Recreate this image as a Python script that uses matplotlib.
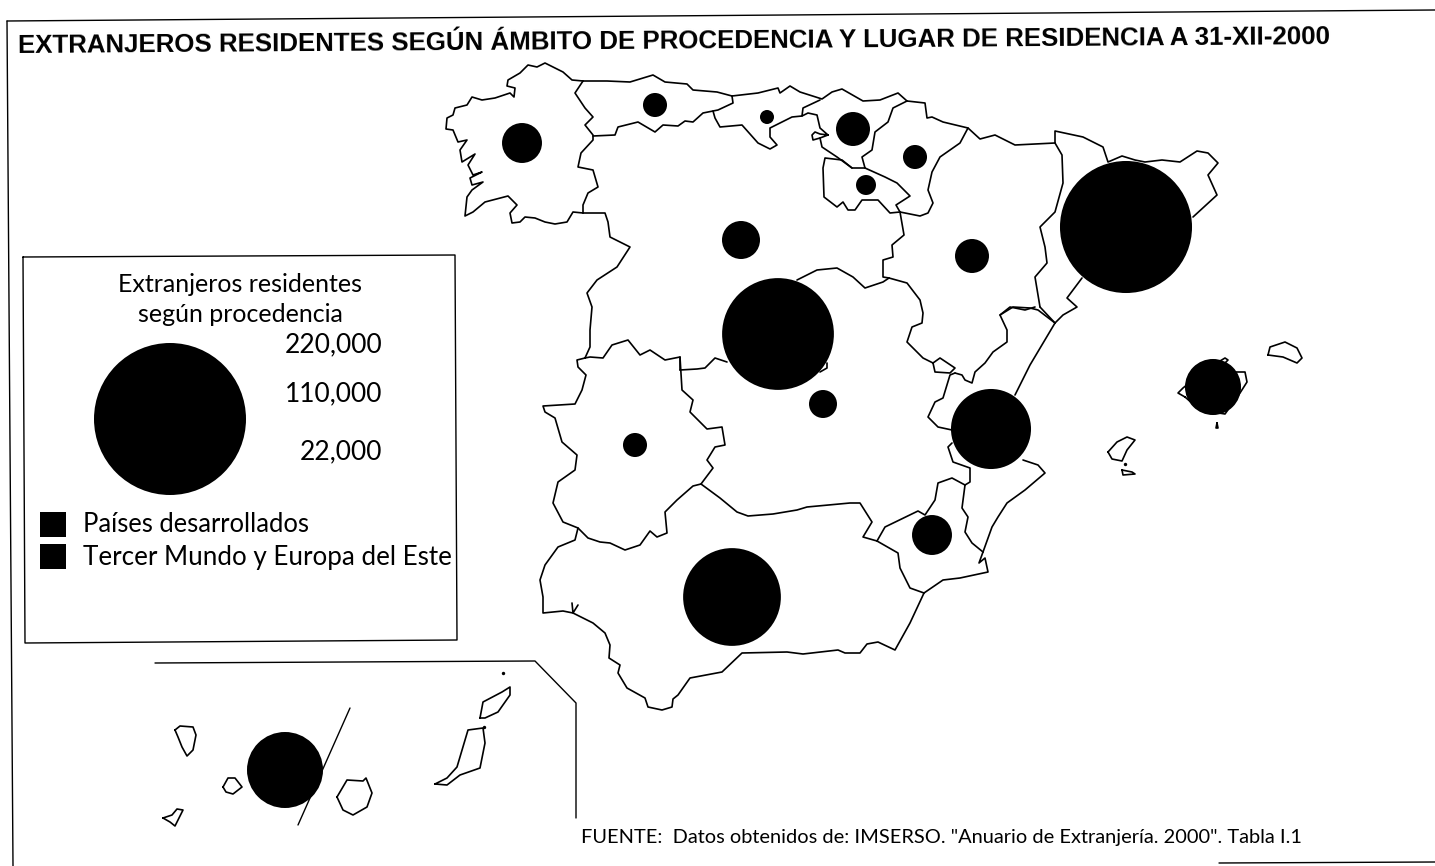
import numpy as np
import matplotlib
matplotlib.use("Agg")
import matplotlib.pyplot as plt
from matplotlib.patches import Circle, Rectangle

# ---- data -----------------------------------------------------------------
TITLE = "EXTRANJEROS RESIDENTES SEGÚN ÁMBITO DE PROCEDENCIA Y LUGAR DE RESIDENCIA A 31-XII-2000"
SOURCE = 'FUENTE:  Datos obtenidos de: IMSERSO. "Anuario de Extranjería. 2000". Tabla I.1'
LEGEND_TITLE = ["Extranjeros residentes", "según procedencia"]
legend_values = [220000, 110000, 22000]
legend_labels = ["220,000", "110,000", "22,000"]
category_labels = ["Países desarrollados", "Tercer Mundo y Europa del Este"]

regions = ["Galicia", "Asturias", "Cantabria", "País Vasco", "Navarra", "La Rioja",
           "Castilla y León", "Aragón", "Cataluña", "Madrid", "Castilla-La Mancha",
           "Extremadura", "C. Valenciana", "Baleares", "Murcia", "Andalucía", "Canarias"]
residents = [15200, 5500, 1870, 11000, 5500, 3800, 13750, 11000, 166000, 119000, 7460,
             5500, 61000, 29900, 15200, 91000, 55000]
region_x = [522, 655, 767, 853, 915, 866, 741, 972, 1126, 778, 823, 635, 991, 1213, 932, 732, 285]
region_y = [143, 105, 117, 129, 157, 185, 240, 256, 227, 334, 404, 445, 429, 387, 535, 597, 770]

boundaries = [
 # Galicia coast
 [(583,81),(572,80),(563,72),(545,63),(537,67),(528,65),(520,73),(508,80),(507,86),(515,88),(514,97),(510,93),(495,98),(482,100),(472,97),(467,105),(455,108),(453,115),(447,118),(446,129),(453,130),(458,142),(467,140),(460,150),(462,162),(475,154),(468,165),(473,175),(482,172),(470,178),(472,185),(483,182),(472,190),(467,197),(465,216),(473,212),(485,202),(508,196),(517,205),(510,213),(512,223),(520,222),(525,217),(535,218),(545,222),(555,224),(567,222),(573,212),(583,213)],
 # Galicia east
 [(583,213),(583,205),(588,193),(598,187),(593,170),(578,167),(581,153),(593,140),(593,135),(585,125),(593,117),(585,108),(575,93),(583,81)],
 # Asturias coast
 [(583,81),(607,81),(630,82),(653,75),(665,82),(687,84),(693,90),(717,92),(732,96)],
 # Asturias south
 [(593,136),(615,135),(618,127),(638,122),(655,132),(663,125),(678,126),(685,121),(693,122),(703,113),(713,111),(715,118),(720,127),(742,125),(758,143),(770,149),(777,145),(770,137),(770,128),(792,117),(802,116),(803,108),(820,100)],
 [(732,96),(733,103),(718,110),(713,111)],
 # Cantabria + Basque coast
 [(732,96),(758,93),(778,88),(780,93),(790,86),(800,92),(822,99),(832,92),(842,89),(863,101),(880,100),(898,93),(907,101)],
 # Álava / Bizkaia enclave
 [(802,116),(808,113),(817,115),(820,128),(828,135),(820,138),(813,140),(812,135),(815,132),(820,134),(828,135)],
 [(820,138),(822,147),(837,157),(852,168),(865,168)],
 # Basque / Navarra
 [(907,101),(893,108),(888,122),(875,132),(872,150),(862,157),(865,168)],
 # Navarra
 [(907,101),(925,103),(927,118),(932,117),(943,122),(968,128),(960,143),(940,157),(932,172),(928,190),(933,203),(928,213),(920,216),(900,212),(896,205),(910,196),(897,183),(885,177),(865,168)],
 # La Rioja
 [(852,168),(842,160),(825,158),(823,168),(824,197),(837,207),(843,202),(848,210),(855,210),(862,200),(878,200),(890,213),(900,212)],
 # Castilla y León east
 [(900,212),(904,235),(892,245),(893,257),(883,260),(883,277),(889,278)],
 # CLM / Aragón
 [(889,278),(907,283),(920,300),(923,313),(922,323),(912,327),(907,342),(923,358),(933,363),(940,358),(955,368),(950,373),(935,372),(933,363)],
 # Madrid - CyL upper
 [(797,280),(817,270),(837,268),(853,277),(865,288),(883,282),(889,278)],
 # Madrid left
 [(680,370),(697,369),(705,368),(715,358),(727,362)],
 [(820,372),(827,368),(827,363)],
 # Portugal border CyL
 [(583,213),(605,213),(608,222),(610,237),(630,247),(617,267),(597,280),(587,293),(592,307),(590,330),(590,347),(585,358)],
 # Extremadura
 [(585,358),(577,360),(578,367),(586,375),(582,390),(575,404),(543,406),(545,412),(555,418),(562,442),(577,455),(575,470),(558,482),(553,503),(563,522),(578,528),(588,538),(600,542),(610,543),(625,550),(640,545),(650,531),(657,537),(667,533),(665,512),(677,500),(693,486),(701,484),(713,468),(707,460),(715,447),(725,445),(722,427),(707,429),(690,412),(693,400),(682,390),(680,357),(665,360),(650,350),(640,355),(628,340),(612,345),(603,358),(590,357),(585,358)],
 [(680,357),(680,370)],
 # CLM / Andalucía
 [(701,484),(720,498),(737,512),(748,516),(773,514),(797,510),(807,507),(850,503),(860,503),(872,522),(863,537),(877,541)],
 # Murcia / CLM
 [(877,541),(885,527),(918,511),(925,515),(935,500),(938,483),(952,478),(965,485)],
 # Valencia / CLM
 [(965,485),(970,482),(970,468),(953,462),(948,447),(952,443)],
 [(952,430),(938,427),(928,417),(935,402),(943,398),(950,375),(955,373)],
 # Valencia / Murcia
 [(965,485),(962,508),(968,517),(965,532),(972,543),(983,552)],
 # Valencia coast
 [(983,552),(992,527),(998,517),(1007,503),(1025,490),(1045,473),(1038,465),(1023,460)],
 [(1015,395),(1030,365),(1055,323)],
 # Valencia / Aragón
 [(1055,323),(1038,310),(1030,308),(1013,307),(1000,315),(1007,330),(1007,342),(993,352),(985,363),(975,372),(972,383),(965,380),(962,375),(955,373)],
 # Ebro delta & Catalan coast
 [(1055,323),(1063,315),(1077,307),(1067,298),(1082,278)],
 [(1193,217),(1217,195),(1208,175),(1218,163),(1208,153),(1197,151),(1180,162),(1162,160),(1145,162),(1135,160),(1122,156),(1108,162),(1103,147),(1083,137),(1055,131),(1055,143)],
 # Aragón north
 [(968,128),(980,139),(995,135),(1015,145),(1055,143)],
 # Aragón / Cataluña
 [(1055,143),(1062,155),(1063,183),(1055,212),(1040,227),(1045,247),(1047,263),(1035,277),(1040,307)],
 [(1040,307),(1055,323)],
 [(1035,307),(1025,310),(1010,307),(1000,315)],
 # Andalucía
 [(578,528),(575,540),(558,547),(545,565),(540,580),(543,597),(543,613),(563,611),(573,613),(593,623),(605,633),(610,645),(609,658),(620,665),(618,673),(627,688),(645,698),(648,707),(662,710),(672,707),(673,699),(678,695),(690,678),(722,672),(742,653),(787,652),(803,654),(838,650),(845,653),(860,653),(867,644),(878,642),(895,650),(910,623),(924,593)],
 [(877,541),(898,553),(900,568),(910,588),(924,593)],
 # Murcia coast
 [(924,593),(943,580),(960,578),(988,572),(985,558),(979,563),(983,552)],
 [(572,603),(573,613),(578,605)],
]

islands = [
 # Menorca
 [(1268,355),(1270,347),(1285,342),(1297,348),(1302,358),(1297,363),(1283,357),(1268,355)],
 # Mallorca
 [(1185,397),(1178,393),(1183,388),(1205,370),(1225,358),(1228,360),(1222,366),(1235,372),(1245,372),(1247,382),(1240,393),(1225,414),(1200,410),(1185,397)],
 # Ibiza
 [(1108,452),(1117,442),(1127,437),(1135,440),(1127,450),(1122,461),(1112,459),(1108,452)],
 # Formentera
 [(1122,470),(1123,475),(1135,474),(1132,472),(1122,470)],
 # Cabrera
 [(1217,423),(1218,428),(1216,428),(1217,423)],
 # La Palma
 [(175,730),(180,726),(193,727),(196,735),(193,750),(187,756),(182,747),(178,737),(175,730)],
 # La Gomera
 [(223,787),(228,778),(235,778),(242,787),(233,794),(226,792),(223,787)],
 # El Hierro
 [(163,818),(172,815),(177,809),(183,810),(178,820),(175,826),(170,822),(163,818)],
 # Gran Canaria
 [(337,797),(347,780),(363,781),(366,778),(372,793),(367,807),(353,815),(343,810),(337,797)],
 # Fuerteventura
 [(435,784),(447,778),(457,767),(468,730),(483,728),(485,743),(480,768),(460,775),(447,785),(435,784)],
 # Lanzarote
 [(480,718),(483,702),(502,692),(510,687),(510,695),(498,712),(485,718),(480,718)],
]
islets_x = [503, 484, 1125]
islets_y = [673, 727, 464]

canary_frame = [(155,663),(535,661),(576,703),(576,818)]
canary_divider = [(350,708),(298,825)]
page_top = [(7,21),(1435,10)]
page_left = [(7,21),(13,866)]
page_bottom = [(1219,863),(1435,862)]
legend_box = [(23,257),(455,255),(457,640),(25,643),(23,257)]

# ---- figure ---------------------------------------------------------------
W, H = 1435, 866
fig = plt.figure(figsize=(W/100, H/100), dpi=100, facecolor="white")
ax = fig.add_axes([0, 0, 1, 1])
ax.set_xlim(0, W); ax.set_ylim(H, 0); ax.axis("off")

def line(pts, lw=1.2, z=2):
    xs, ys = zip(*pts)
    ax.plot(xs, ys, color="black", lw=lw, zorder=z, solid_joinstyle="round", solid_capstyle="round")

for b in boundaries + islands:
    line(b)
ax.scatter(islets_x, islets_y, s=6, color="black", linewidths=0, zorder=2)
line(canary_frame, 1.0); line(canary_divider, 1.0)
line(page_top, 1.0); line(page_left, 1.0); line(page_bottom, 1.0); line(legend_box, 1.0)

K = 76 / np.sqrt(220000)   # px radius per sqrt(resident)
def bubble(x, y, v):
    ax.add_patch(Circle((x, y), K*np.sqrt(v), fc="black", ec="none", zorder=4))

for x, y, v in zip(region_x, region_y, residents):
    bubble(x, y, v)

for v in legend_values:
    bubble(170, 419, v)

font = "Lato"
ax.text(18, 46, TITLE, family="Liberation Sans", weight="bold", fontsize=18.6, va="center", ha="left",
        rotation=0.39, rotation_mode="anchor")
for lab, yy in zip(LEGEND_TITLE, [284, 314]):
    ax.text(240, yy, lab, family=font, fontsize=18, va="center", ha="center")
for lab, yy in zip(legend_labels, [345, 394, 452]):
    ax.text(382, yy, lab, family=font, fontsize=19, va="center", ha="right")
for lab, yy in zip(category_labels, [524, 556]):
    ax.add_patch(Rectangle((40, yy-12.5), 26, 25.5, fc="black", ec="none", zorder=3))
    ax.text(83, yy+1, lab, family=font, fontsize=18.4 if yy < 540 else 18.7, va="center", ha="left")
ax.text(581, 838, SOURCE, family=font, fontsize=14.4, va="center", ha="left")

fig.savefig("out.png", dpi=100)
